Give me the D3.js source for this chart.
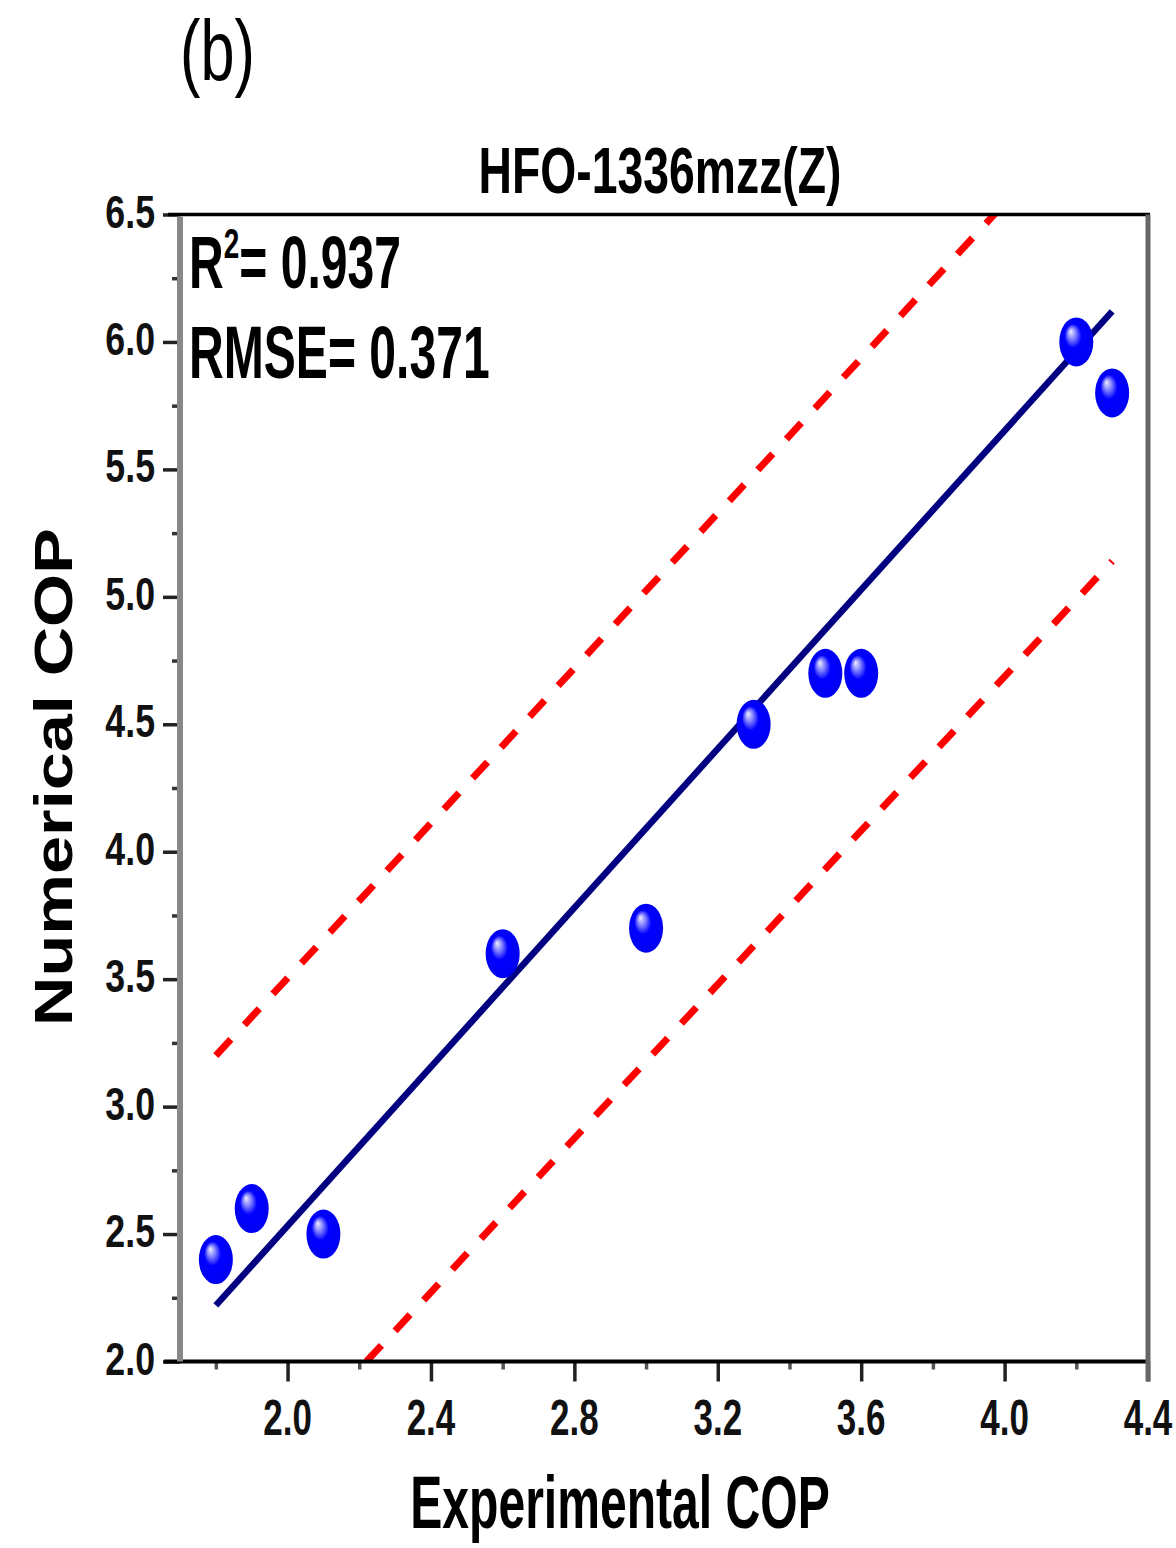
<!DOCTYPE html>
<html>
<head>
<meta charset="utf-8">
<script src="https://cdn.jsdelivr.net/npm/d3@7"></script>
<style>
  html, body { margin: 0; padding: 0; background: #ffffff; }
  svg { display: block; font-family: "Liberation Sans", Arial, Helvetica, sans-serif; }
</style>
</head>
<body>
<svg id="chart" width="1176" height="1548"></svg>
<script>
// ---- data ----
const experimentalCOP = [1.8, 1.9, 2.1, 2.6, 3.0, 3.3, 3.5, 3.6, 4.2, 4.3];
const numericalCOP    = [2.4, 2.6, 2.5, 3.6, 3.7, 4.5, 4.7, 4.7, 6.0, 5.8];
const fitLine   = [[1.8, 2.22], [4.3, 6.12]];
const upperBand = [[1.8, 3.2], [4.3, 7.0]];
const lowerBand = [[2.22, 2.0], [4.3, 5.14]];
const xTicks = [2.0, 2.4, 2.8, 3.2, 3.6, 4.0, 4.4];
const xMinorTicks = [1.8, 2.2, 2.6, 3.0, 3.4, 3.8, 4.2];
const yTicks = [2.0, 2.5, 3.0, 3.5, 4.0, 4.5, 5.0, 5.5, 6.0, 6.5];
const yMinorTicks = [2.25, 2.75, 3.25, 3.75, 4.25, 4.75, 5.25, 5.75, 6.25];
const panelLabel = "(b)";
const chartTitle = "HFO-1336mzz(Z)";
const xLabel = "Experimental COP";
const yLabel = "Numerical COP";
const r2Value = "0.937";
const rmseValue = "0.371";

// ---- layout ----
const L = 180, R = 1148, T = 214.5, B = 1361.5;
const svg = d3.select("#chart");
const x = d3.scaleLinear().domain([1.7, 4.4]).range([L, R]);
const y = d3.scaleLinear().domain([2.0, 6.5]).range([B, T]);

const defs = svg.append("defs");
defs.append("clipPath").attr("id", "plotClip")
  .append("rect").attr("x", L).attr("y", T).attr("width", R - L).attr("height", B - T);
const grad = defs.append("radialGradient").attr("id", "ball")
  .attr("cx", "50%").attr("cy", "50%").attr("r", "55%")
  .attr("fx", "33%").attr("fy", "28%");
grad.append("stop").attr("offset", "0%").attr("stop-color", "#eeeeff");
grad.append("stop").attr("offset", "22%").attr("stop-color", "#8080ff");
grad.append("stop").attr("offset", "45%").attr("stop-color", "#0000ff");
grad.append("stop").attr("offset", "100%").attr("stop-color", "#0000f0");

// ---- axes ----
const yMajor = d3.axisLeft(y).tickValues(yTicks).tickSize(17).tickFormat("");
const yMinor = d3.axisLeft(y).tickValues(yMinorTicks).tickSize(8).tickFormat("");
const xMajor = d3.axisBottom(x).tickValues(xTicks).tickSize(20).tickFormat("");
const xMinor = d3.axisBottom(x).tickValues(xMinorTicks).tickSize(8).tickFormat("");

function styleAxis(g, color) {
  g.select(".domain").remove();
  g.selectAll("line").attr("stroke", color).attr("stroke-width", 3.5);
}
svg.append("g").attr("transform", `translate(${L},0)`).call(yMajor).call(g => styleAxis(g, "#222"));
svg.append("g").attr("transform", `translate(${L},0)`).call(yMinor).call(g => styleAxis(g, "#333"));
svg.append("g").attr("transform", `translate(0,${B})`).call(xMajor).call(g => styleAxis(g, "#222"));
svg.append("g").attr("transform", `translate(0,${B})`).call(xMinor).call(g => styleAxis(g, "#555"));

// tick labels
svg.append("g").selectAll("text").data(yTicks).join("text")
  .attr("transform", d => `translate(155,${y(d) + 13}) scale(0.76,1)`)
  .attr("text-anchor", "end").attr("font-size", 47).attr("font-weight", "bold")
  .attr("fill", "#111").text(d => d.toFixed(1));
svg.append("g").selectAll("text").data(xTicks).join("text")
  .attr("transform", d => `translate(${x(d)},1435) scale(0.7,1)`)
  .attr("text-anchor", "middle").attr("font-size", 50).attr("font-weight", "bold")
  .attr("fill", "#111").text(d => d.toFixed(1));

// ---- plot content ----
const line = d3.line().x(d => x(d[0])).y(d => y(d[1]));
const plot = svg.append("g").attr("clip-path", "url(#plotClip)");
plot.selectAll("path.band").data([upperBand, lowerBand]).join("path")
  .attr("class", "band").attr("d", line).attr("fill", "none")
  .attr("stroke", "#ff0000").attr("stroke-width", 7).attr("stroke-dasharray", "22,20");
svg.append("path").datum(fitLine).attr("d", line).attr("fill", "none")
  .attr("stroke", "#000080").attr("stroke-width", 6.5);

svg.append("g").selectAll("ellipse").data(experimentalCOP.map((v, i) => [v, numericalCOP[i]])).join("ellipse")
  .attr("cx", d => x(d[0])).attr("cy", d => y(d[1]))
  .attr("rx", 17).attr("ry", 24.5).attr("fill", "url(#ball)");

// frame
svg.append("line").attr("x1", 168).attr("x2", R + 2).attr("y1", T).attr("y2", T)
  .attr("stroke", "#000").attr("stroke-width", 3.5);
svg.append("line").attr("x1", 164).attr("x2", R + 2).attr("y1", B).attr("y2", B)
  .attr("stroke", "#000").attr("stroke-width", 4);
svg.append("line").attr("x1", L).attr("x2", L).attr("y1", T + 2).attr("y2", B)
  .attr("stroke", "#888").attr("stroke-width", 6);
svg.append("line").attr("x1", R).attr("x2", R).attr("y1", T).attr("y2", B + 20)
  .attr("stroke", "#666").attr("stroke-width", 5);

// ---- texts ----
svg.append("text").attr("transform", "translate(180,80) scale(0.72,1)")
  .attr("font-size", 85).attr("fill", "#000").text(panelLabel);
svg.append("text").attr("transform", "translate(660,193) scale(0.724,1)")
  .attr("text-anchor", "middle").attr("font-size", 64).attr("font-weight", "bold")
  .attr("fill", "#000").text(chartTitle);

const r2 = svg.append("text").attr("transform", "translate(189,288) scale(0.65,1)")
  .attr("font-size", 74).attr("font-weight", "bold").attr("fill", "#000");
r2.append("tspan").text("R");
r2.append("tspan").attr("dy", -30).attr("font-size", 43).text("2");
r2.append("tspan").attr("dy", 30).text("= " + r2Value);

svg.append("text").attr("transform", "translate(189,378) scale(0.65,1)")
  .attr("font-size", 74).attr("font-weight", "bold").attr("fill", "#000")
  .text("RMSE= " + rmseValue);

svg.append("text").attr("transform", "translate(620,1528) scale(0.65,1)")
  .attr("text-anchor", "middle").attr("font-size", 74).attr("font-weight", "bold")
  .attr("fill", "#000").text(xLabel);
svg.append("text").attr("transform", "translate(72,777) rotate(-90) scale(1.255,1)")
  .attr("text-anchor", "middle").attr("font-size", 54.5).attr("font-weight", "bold")
  .attr("fill", "#000").text(yLabel);
</script>
</body>
</html>
